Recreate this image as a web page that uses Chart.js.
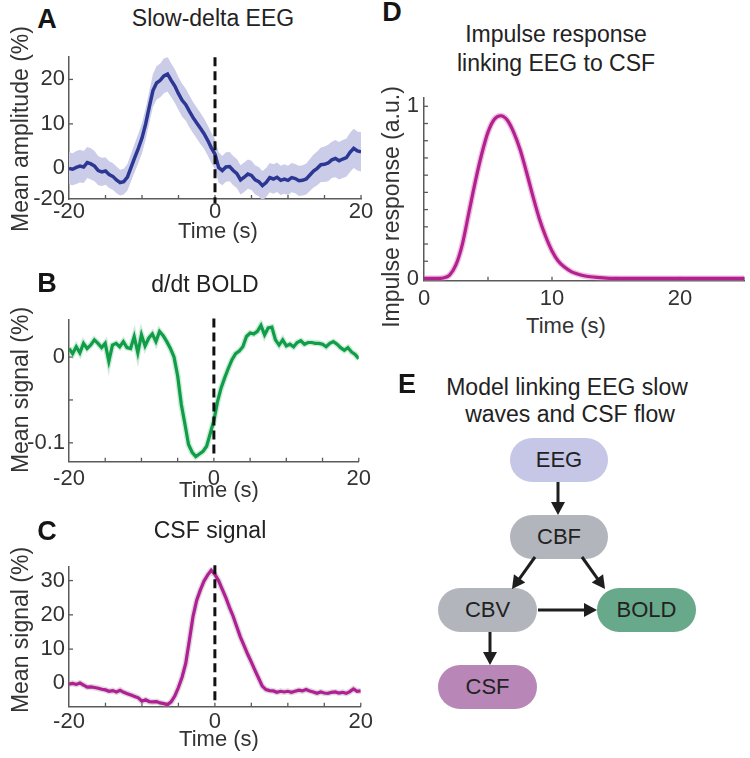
<!DOCTYPE html>
<html>
<head>
<meta charset="utf-8">
<script src="https://cdn.jsdelivr.net/npm/chart.js@4.4.1/dist/chart.umd.min.js"></script>
<style>
  html,body{margin:0;padding:0;background:#fff;}
  #fig{position:relative;width:750px;height:758px;background:#fff;overflow:hidden;
       font-family:"Liberation Sans",Arial,Helvetica,sans-serif;color:#222;}
  canvas{position:absolute;}
  .t{position:absolute;transform:translate(-50%,-50%);white-space:nowrap;line-height:1;font-size:23px;color:#222;}
  .axt{font-size:22px;color:#333;}
  .ylab{transform:translate(-50%,-50%) rotate(-90deg);font-size:23px;color:#333;}
  .letter{font-weight:bold;font-size:27px;color:#151515;}
  .node{position:absolute;border-radius:22px;display:flex;align-items:center;justify-content:center;
        font-size:22px;color:#222;line-height:1;}
</style>
</head>
<body>
<div id="fig">
  <canvas id="cA" width="375" height="190" style="left:0;top:40px"></canvas>
  <canvas id="cB" width="375" height="190" style="left:0;top:303px"></canvas>
  <canvas id="cC" width="375" height="190" style="left:0;top:550px"></canvas>
  <canvas id="cD" width="375" height="230" style="left:375px;top:80px"></canvas>

  <div class="t letter" style="left:47px;top:19px">A</div>
  <div class="t" style="left:213px;top:18px">Slow-delta EEG</div>
  <div class="t ylab" style="left:20px;top:129px">Mean amplitude (%)</div>
  <div class="t axt" style="left:218px;top:231px">Time (s)</div>

  <div class="t letter" style="left:47px;top:283px">B</div>
  <div class="t" style="left:205px;top:284px">d/dt BOLD</div>
  <div class="t ylab" style="left:20px;top:390px">Mean signal (%)</div>
  <div class="t axt" style="left:219px;top:490px">Time (s)</div>

  <div class="t letter" style="left:47px;top:531px">C</div>
  <div class="t" style="left:210px;top:530px">CSF signal</div>
  <div class="t ylab" style="left:20px;top:630px">Mean signal (%)</div>
  <div class="t axt" style="left:219px;top:739px">Time (s)</div>

  <div class="t letter" style="left:392px;top:12px">D</div>
  <div class="t" style="left:556px;top:34px">Impulse response</div>
  <div class="t" style="left:556px;top:63px">linking EEG to CSF</div>
  <div class="t ylab" style="left:391px;top:207px">Impulse response (a.u.)</div>
  <div class="t axt" style="left:566px;top:326px">Time (s)</div>

  <div class="t letter" style="left:407px;top:384px">E</div>
  <div class="t" style="left:567px;top:387px">Model linking EEG slow</div>
  <div class="t" style="left:570px;top:414px">waves and CSF flow</div>

  <div class="node" style="left:510px;top:438px;width:98px;height:44px;background:#c6c6e6">EEG</div>
  <div class="node" style="left:510px;top:515px;width:98px;height:44px;background:#b2b5bc">CBF</div>
  <div class="node" style="left:438px;top:588px;width:99px;height:44px;background:#b2b5bc">CBV</div>
  <div class="node" style="left:597px;top:588px;width:99px;height:44px;background:#68a88b">BOLD</div>
  <div class="node" style="left:438px;top:665px;width:99px;height:44px;background:#b887b7">CSF</div>
  <svg id="arrows" width="750" height="758" style="position:absolute;left:0;top:0"></svg>
</div>

<script>
// ---------------- data ----------------
const timeSec = [-20,-19.5,-19,-18.5,-18,-17.5,-17,-16.5,-16,-15.5,-15,
  -14.5,-14,-13.5,-13,-12.5,-12,-11.5,-11,-10.5,-10,
  -9.5,-9,-8.5,-8,-7.5,-7,-6.5,-6,-5.5,-5,
  -4.5,-4,-3.5,-3,-2.5,-2,-1.5,-1,-0.5,0,
  0.5,1,1.5,2,2.5,3,3.5,4,4.5,5,
  5.5,6,6.5,7,7.5,8,8.5,9,9.5,10,
  10.5,11,11.5,12,12.5,13,13.5,14,14.5,15,
  15.5,16,16.5,17,17.5,18,18.5,19,19.5,20];

const eegMean = [0,-0.2,0.2,0.5,0.3,1.3,1.0,0.5,-0.5,-0.8,-0.6,
  -1.4,-1.8,-2.6,-3.2,-3.0,-2.0,0.2,2.4,4.5,6.8,
  10.0,13.8,17.5,19.2,19.8,20.8,21.2,19.8,18.5,16.8,
  15.3,14.3,12.8,11.4,10.2,9.0,7.8,6.3,4.6,3.2,
  0.2,-0.5,0.3,0.4,-0.5,-1.2,-2.6,-2.0,-1.3,-1.6,
  -2.6,-3.0,-3.9,-3.2,-2.1,-2.4,-2.0,-2.7,-2.4,-2.7,
  -2.1,-2.3,-2.8,-2.7,-2.4,-1.5,-0.6,0.0,0.8,0.9,
  1.2,1.9,2.2,1.7,2.1,2.4,3.6,4.5,3.9,3.7];

const eegSem = [3.6,3.6,3.7,3.7,3.6,3.5,3.5,3.4,3.3,3.2,3.1,
  3.0,3.0,3.0,2.9,2.9,3.0,3.1,3.2,3.3,3.4,
  3.5,3.6,3.7,3.8,3.8,3.9,3.9,3.8,3.8,3.7,
  3.7,3.6,3.6,3.5,3.5,3.5,3.4,3.4,3.4,3.4,
  3.4,3.3,3.3,3.3,3.3,3.3,3.3,3.3,3.3,3.3,
  3.3,3.3,3.3,3.3,3.3,3.3,3.3,3.3,3.3,3.3,
  3.3,3.3,3.4,3.4,3.5,3.6,3.7,3.8,3.9,4.0,
  4.1,4.1,4.2,4.2,4.3,4.3,4.4,4.4,4.4,4.4];

const boldDeriv = [0.010,0.004,0.012,0.005,0.016,0.010,0.014,0.020,0.016,0.011,0.016,
  -0.005,0.014,0.016,0.012,0.018,0.011,0.010,0.024,0.005,0.026,
  0.013,0.022,0.027,0.018,0.030,0.025,0.018,0.010,0.000,-0.022,
  -0.055,-0.078,-0.102,-0.111,-0.116,-0.113,-0.110,-0.104,-0.089,-0.074,
  -0.052,-0.036,-0.024,-0.013,-0.003,0.004,0.007,0.012,0.024,0.028,
  0.027,0.030,0.037,0.026,0.034,0.035,0.020,0.014,0.020,0.013,
  0.015,0.012,0.017,0.019,0.015,0.017,0.017,0.016,0.016,0.015,
  0.012,0.016,0.018,0.015,0.011,0.008,0.011,0.006,0.003,-0.002];

const csfSignal = [-0.2,0.0,-0.3,0.1,-0.5,-1.1,-1.0,-1.2,-1.4,-1.7,-1.9,
  -2.3,-2.1,-2.5,-2.0,-2.6,-3.0,-3.4,-3.8,-4.2,-5.2,
  -4.8,-5.3,-5.4,-5.3,-5.7,-5.9,-6.2,-5.4,-3.7,-1.2,
  1.8,5.8,12.5,19.5,24.2,27.2,29.8,31.6,33.0,31.8,
  30.0,27.5,25.0,22.2,19.6,16.5,13.5,11.0,8.5,6.2,
  3.8,1.5,-0.8,-1.8,-2.1,-2.2,-2.6,-2.3,-2.5,-2.3,
  -2.6,-2.3,-2.0,-2.2,-1.8,-2.2,-2.5,-2.9,-2.5,-2.8,
  -2.9,-2.6,-2.5,-2.8,-2.6,-2.9,-2.4,-1.6,-2.3,-2.2];

const irfTime = [0,0.5,1,1.5,2,2.5,3,3.5,4,4.5,5,5.5,6,6.5,7,7.5,8,8.5,9,9.5,
  10,10.5,11,11.5,12,12.5,13,13.5,14,14.5,15,15.5,16,16.5,17,17.5,18,18.5,19,19.5,
  20,20.5,21,21.5,22,22.5,23,23.5,24,24.5,25];
const irfValue = [0,0,0,0.003,0.02,0.08,0.2,0.38,0.56,0.72,0.85,0.925,0.945,0.92,0.85,0.75,0.62,0.48,0.35,0.245,
  0.16,0.1,0.065,0.04,0.026,0.016,0.01,0.006,0.003,0.001,0,0,0,0,0,0,0,0,0,0,
  0,0,0,0,0,0,0,0,0,0,0];

const timeTicks = [-20,-15,-10,-5,0,5,10,15,20];
const timeTickLabels = ['-20','','','','0','','','','20'];
const eegYTicks = [-6.9,0,10,20];
const eegYTickLabels = ['-20','0','10','20'];
const boldYTicks = [-0.1,-0.05,0];
const boldYTickLabels = ['-0.1','','0'];
const csfYTicks = [0,10,20,30];
const csfYTickLabels = ['0','10','20','30'];
const irfXTicks = [0,5,10,15,20,25];
const irfXTickLabels = ['0','','10','','20',''];
const irfYTicks = [0,0.1,0.2,0.3,0.4,0.5,0.6,0.7,0.8,0.9,1];
const irfYTickLabels = ['0','','','','','','','','','','1'];

// ---------------- helpers ----------------
Chart.defaults.font.family = '"Liberation Sans", Arial, Helvetica, sans-serif';

const inwardTicks = {
  id: 'inwardTicks',
  beforeDatasetsDraw(chart, args, opts) {
    const {ctx, chartArea: a, scales: {x, y}} = chart;
    const len = opts.len || 4;
    ctx.save();
    ctx.strokeStyle = '#5a5a5a';
    ctx.lineWidth = 1.3;
    x.ticks.forEach(t => {
      const px = x.getPixelForValue(t.value);
      if (px < a.left + 1) return;
      ctx.beginPath(); ctx.moveTo(px, a.bottom); ctx.lineTo(px, a.bottom - len); ctx.stroke();
    });
    y.ticks.forEach(t => {
      const py = y.getPixelForValue(t.value);
      if (py > a.bottom - 1) return;
      ctx.beginPath(); ctx.moveTo(a.left, py); ctx.lineTo(a.left + len, py); ctx.stroke();
    });
    ctx.restore();
  }
};

function axis(tickVals, tickLabels, min, max, size, pad, isX) {
  return {
    type: 'linear', min: min, max: max,
    afterBuildTicks: s => { s.ticks = tickVals.map(v => ({value: v})); },
    afterFit: s => { if (isX) s.height = size; else s.width = size; },
    ticks: {autoSkip: false, maxRotation: 0, minRotation: 0, padding: pad, color: '#333',
            font: {size: 22}, callback: (v, i) => tickLabels[i]},
    grid: {display: true, drawOnChartArea: false, drawTicks: false},
    border: {display: true, color: '#5a5a5a', width: 1.5}
  };
}

function pts(xs, ys) { return xs.map((x, i) => ({x: x, y: ys[i]})); }

function baseOptions(pad, scales) {
  return {
    responsive: false, animation: false, events: [],
    layout: {padding: pad},
    plugins: {legend: {display: false}, tooltip: {enabled: false}, inwardTicks: {len: 4}},
    elements: {point: {radius: 0}, line: {tension: 0}},
    scales: scales
  };
}

function zeroLine(yTop, yBot) {
  return {data: [{x: 0, y: yTop}, {x: 0, y: yBot}], borderColor: '#111', borderWidth: 3,
          borderDash: [9, 5], pointRadius: 0, fill: false, clip: 8};
}

// ---------------- Panel A ----------------
const eegUpper = eegMean.map((v, i) => v + eegSem[i]);
const eegLower = eegMean.map((v, i) => v - eegSem[i]);
new Chart(document.getElementById('cA'), {
  type: 'line',
  data: {datasets: [
    zeroLine(25.0, -7.8),
    {data: pts(timeSec, eegMean), borderColor: '#2c3794', borderWidth: 3.5, fill: false, pointRadius: 0},
    {data: pts(timeSec, eegUpper), borderWidth: 0, borderColor: 'rgba(0,0,0,0)', backgroundColor: '#cbcde8', fill: '+1', pointRadius: 0},
    {data: pts(timeSec, eegLower), borderWidth: 0, borderColor: 'rgba(0,0,0,0)', fill: false, pointRadius: 0}
  ]},
  options: baseOptions({left: 0, right: 14, top: 10, bottom: 0}, {
    x: axis(timeTicks, timeTickLabels, -20, 20, 31, 0, true),
    y: axis(eegYTicks, eegYTickLabels, -6.9, 25.0, 69, 4, false)
  }),
  plugins: [inwardTicks]
});

// ---------------- Panel B ----------------
new Chart(document.getElementById('cB'), {
  type: 'line',
  data: {datasets: [
    zeroLine(0.045, -0.117),
    {data: pts(timeSec, boldDeriv), borderColor: '#0f9d48', borderWidth: 3.2, fill: false, pointRadius: 0},
    {data: pts(timeSec, boldDeriv), borderColor: 'rgba(130,205,160,0.4)', borderWidth: 6, fill: false, pointRadius: 0}
  ]},
  options: baseOptions({left: 0, right: 14, top: 10, bottom: 0}, {
    x: axis(timeTicks, timeTickLabels, -20, 20, 31.3, 4, true),
    y: axis(boldYTicks, boldYTickLabels, -0.122, 0.043, 69, 4, false)
  }),
  plugins: [inwardTicks]
});

// ---------------- Panel C ----------------
new Chart(document.getElementById('cC'), {
  type: 'line',
  data: {datasets: [
    zeroLine(34.5, -6.3),
    {data: pts(timeSec, csfSignal), borderColor: '#b21e93', borderWidth: 3.2, fill: false, pointRadius: 0},
    {data: pts(timeSec, csfSignal), borderColor: 'rgba(170,160,170,0.4)', borderWidth: 6, fill: false, pointRadius: 0}
  ]},
  options: baseOptions({left: 0, right: 14, top: 10, bottom: 0}, {
    x: axis(timeTicks, timeTickLabels, -20, 20, 33.3, 2, true),
    y: axis(csfYTicks, csfYTickLabels, -6.8, 33.9, 69, 4, false)
  }),
  plugins: [inwardTicks]
});

// ---------------- Panel D ----------------
new Chart(document.getElementById('cD'), {
  type: 'line',
  data: {datasets: [
    {data: pts(irfTime, irfValue), borderColor: '#b5208f', borderWidth: 3.2, fill: false, pointRadius: 0,
     cubicInterpolationMode: 'monotone'},
    {data: pts(irfTime, irfValue), borderColor: 'rgba(210,120,190,0.45)', borderWidth: 6, fill: false, pointRadius: 0,
     cubicInterpolationMode: 'monotone'}
  ]},
  options: baseOptions({left: 0, right: 6, top: 11.7, bottom: 0}, {
    x: axis(irfXTicks, irfXTickLabels, 0, 25, 29.3, 5, true),
    y: axis(irfYTicks, irfYTickLabels, -0.013, 1.047, 49, 5, false)
  }),
  plugins: [inwardTicks]
});

// ---------------- Panel E arrows ----------------
(function () {
  const svg = document.getElementById('arrows');
  const NS = 'http://www.w3.org/2000/svg';
  const links = [[558, 482, 558, 515], [535, 557, 512, 589], [582, 557, 605, 589], [538, 610, 597, 610], [490, 632, 490, 665]];
  links.forEach(([x1, y1, x2, y2]) => {
    const dx = x2 - x1, dy = y2 - y1, L = Math.hypot(dx, dy);
    const ux = dx / L, uy = dy / L, hl = 13, hw = 7;
    const bx = x2 - ux * hl, by = y2 - uy * hl;
    const line = document.createElementNS(NS, 'line');
    line.setAttribute('x1', x1); line.setAttribute('y1', y1);
    line.setAttribute('x2', bx + ux); line.setAttribute('y2', by + uy);
    line.setAttribute('stroke', '#1e1e1e'); line.setAttribute('stroke-width', 3);
    svg.appendChild(line);
    const head = document.createElementNS(NS, 'polygon');
    head.setAttribute('points', `${x2},${y2} ${bx - uy * hw},${by + ux * hw} ${bx + uy * hw},${by - ux * hw}`);
    head.setAttribute('fill', '#1e1e1e');
    svg.appendChild(head);
  });
})();
</script>
</body>
</html>
